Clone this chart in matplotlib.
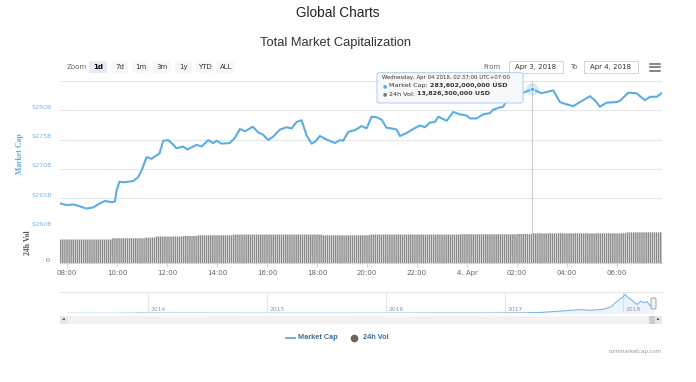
import numpy as np
import pandas as pd
import matplotlib
matplotlib.use("Agg")
import matplotlib.pyplot as plt
import matplotlib.dates as mdates
from matplotlib.patches import Rectangle, FancyBboxPatch
from matplotlib.lines import Line2D

W, H = 696, 382

# total market cap (billions USD), Apr 3 -> Apr 4 2018, UTC+07:00
mcap_times = ["07:43", "07:59", "08:15", "08:26", "08:47", "09:03", "09:19", "09:31", "09:47", "09:55",
              "09:59", "10:06", "10:15", "10:39", "10:51", "10:59", "11:11", "11:23", "11:35", "11:42",
              "11:51", "12:03", "12:11", "12:23", "12:38", "12:49", "13:03", "13:11", "13:23", "13:39",
              "13:51", "13:59", "14:11", "14:31", "14:43", "14:55", "15:07", "15:19", "15:26", "15:39",
              "15:51", "16:03", "16:15", "16:31", "16:47", "16:59", "17:11", "17:23", "17:35", "17:47",
              "17:55", "18:07", "18:23", "18:43", "18:55", "19:03", "19:15", "19:31", "19:47", "19:59",
              "20:11", "20:23", "20:35", "20:47", "20:59", "21:11", "21:19", "21:35", "21:51", "22:07",
              "22:19", "22:31", "22:43", "22:51", "23:11", "23:27", "23:43", "23:59", "00:07", "00:23",
              "00:39", "00:55", "01:03", "01:19", "01:27", "01:39", "01:59", "02:15", "02:37", "02:59",
              "03:27", "03:43", "03:55", "04:15", "04:31", "04:55", "05:07", "05:19", "05:35", "05:59",
              "06:07", "06:27", "06:47", "07:07", "07:19", "07:35", "07:47"]
mcap_values = [264.1, 263.8, 263.9, 263.7, 263.2, 263.4, 264.1, 264.5, 264.3, 264.4,
               266.3, 267.8, 267.7, 267.9, 268.6, 269.7, 272.0, 271.7, 272.3, 272.6,
               274.8, 274.9, 274.4, 273.5, 273.8, 273.3, 273.8, 274.1, 273.8, 274.9,
               274.4, 274.8, 274.3, 274.4, 275.3, 276.8, 276.4, 276.9, 277.2, 276.2,
               275.8, 274.9, 275.5, 276.7, 277.1, 276.9, 278.0, 278.3, 275.7, 274.3,
               274.6, 275.6, 275.0, 274.4, 274.9, 274.8, 276.3, 276.6, 277.3, 276.9,
               278.9, 278.8, 278.4, 277.0, 276.9, 276.7, 275.6, 276.1, 276.8, 277.4,
               277.1, 277.9, 278.0, 278.9, 278.2, 279.7, 279.3, 279.1, 278.6, 278.6,
               279.3, 279.5, 280.1, 280.5, 280.6, 282.3, 282.9, 283.0, 283.6, 282.9,
               283.4, 281.4, 281.1, 280.7, 281.4, 282.4, 281.7, 280.6, 281.3, 281.4,
               281.6, 283.0, 282.9, 281.7, 282.3, 282.3, 282.9]

# 24h volume (billions USD): level held from each start time
vol_starts = ["07:43", "09:48", "11:07", "11:31", "12:36", "13:14", "14:36", "18:12",
              "20:07", "23:43", "02:00", "02:38", "06:24"]
vol_levels = [11.2, 11.8, 12.1, 12.6, 12.9, 13.2, 13.55, 13.2,
              13.55, 13.7, 13.83, 14.15, 14.6]

x_ticks = [8, 10, 12, 14, 16, 18, 20, 22, 24, 26, 28, 30]
x_labels = ["08:00", "10:00", "12:00", "14:00", "16:00", "18:00", "20:00", "22:00",
            "4. Apr", "02:00", "04:00", "06:00"]
y_ticks = [260, 265, 270, 275, 280]
y_labels = ["$260B", "$265B", "$270B", "$275B", "$280B"]

# navigator: whole history (billions USD)
nav_dates = ["2013-04-28", "2013-10-01", "2013-11-15", "2013-12-04", "2013-12-20", "2014-01-15",
             "2014-03-01", "2014-06-01", "2014-09-01", "2015-01-15", "2015-06-01", "2015-11-05",
             "2016-01-01", "2016-06-18", "2016-10-01", "2017-01-01", "2017-03-01", "2017-04-20",
             "2017-06-13", "2017-08-22", "2017-09-22", "2017-11-01", "2017-11-23", "2017-12-14",
             "2017-12-23", "2018-01-01", "2018-01-07", "2018-01-15", "2018-01-28", "2018-02-05",
             "2018-02-13", "2018-02-23", "2018-03-06", "2018-03-14", "2018-03-25", "2018-04-04"]
nav_values = [1.5, 1.8, 6, 14, 8, 11,
              8, 8, 6, 3.5, 3.5, 6,
              7, 12, 11, 17, 22, 35,
              87, 160, 130, 175, 275, 537,
              640, 730, 830, 686, 568, 467,
              380, 524, 467, 510, 336, 270]
nav_years = ["2014", "2015", "2016", "2017", "2018"]

LINE = "#5aaee3"
GRID = "#e6e6e6"
AXIS = "#ccd6eb"


def to_hours(times):
    # hours since Apr 3 00:00; once the clock wraps we are on Apr 4
    out = []
    day = 0
    prev = -1
    for s in times:
        h, m = map(int, s.split(":"))
        v = h + m / 60
        if v < prev:
            day = 24
        prev = v
        out.append(v + day)
    return np.array(out)


def frame(x0, y0, x1, y1):
    return [x0 / W, 1 - y1 / H, (x1 - x0) / W, (y1 - y0) / H]


def fx(x):
    return x / W


def fy(y):
    return 1 - y / H


def box(x0, y0, x1, y1, fc, ec="none", lw=0.6, r=0.003, z=5):
    p = FancyBboxPatch((fx(x0), fy(y1)), (x1 - x0) / W, (y1 - y0) / H,
                       boxstyle=f"round,pad=0,rounding_size={r}", transform=fig.transFigure,
                       fc=fc, ec=ec, lw=lw, zorder=z)
    fig.add_artist(p)


fig = plt.figure(figsize=(W / 100, H / 100), dpi=100)
fig.patch.set_facecolor("white")

# titles
fig.text(fx(338), fy(13), "Global Charts", ha="center", va="center",
         family="Liberation Sans", fontsize=9.8, color="#222222")
fig.text(fx(335), fy(43), "Total Market Capitalization", ha="center", va="center",
         family="Liberation Sans", fontsize=9.3, color="#333333")

# ---- market cap pane
hours = to_hours(mcap_times)
xmin, xmax = 7.72, 31.8
ax = fig.add_axes(frame(60, 81, 662, 227.3))
ax.set_xlim(xmin, xmax)
ax.set_ylim(260, 285)
for v in y_ticks + [285]:
    ax.axhline(v, color=GRID, lw=0.8, zorder=0)
for v, lab in zip(y_ticks, y_labels):
    ax.text(-0.013, v + 0.5, lab, transform=ax.get_yaxis_transform(), ha="right", va="center",
            fontsize=4.6, color="#7cb5ec")
ax.axvline(26.6167, color="#cccccc", lw=0.8, zorder=1)
ax.plot(hours, mcap_values, color=LINE, lw=1.5, zorder=3, solid_joinstyle="round")
ax.plot([26.6167], [283.602], "o", ms=9, color=LINE, alpha=0.25, mec="none", zorder=4)
ax.plot([26.6167], [283.602], "o", ms=3.2, color=LINE, mec="white", mew=0.5, zorder=5)
ax.axis("off")
fig.text(fx(20), fy(154), "Market Cap", rotation=90, ha="center", va="center",
         family="Liberation Serif", fontweight="bold", fontsize=5.6, color="#5ea9de")

# ---- volume pane
vol_h = to_hours(vol_starts)
bar_t = np.arange(7.75, 31.8, 5 / 60)
idx = np.searchsorted(vol_h, bar_t, side="right") - 1
bar_v = np.array(vol_levels)[idx]
axv = fig.add_axes(frame(60, 227.3, 662, 263))
axv.set_xlim(xmin, xmax)
axv.set_ylim(0, 17)
bars = axv.bar(bar_t, bar_v, width=0.058, color="#888888", lw=0, zorder=2)
for b in bars:
    b.set_snap(False)
axv.axvline(26.6167, color="#cccccc", lw=0.8, zorder=3)
for s in ["top", "right", "left"]:
    axv.spines[s].set_visible(False)
axv.spines["bottom"].set_color(AXIS)
axv.spines["bottom"].set_linewidth(0.8)
axv.set_yticks([])
axv.set_xticks(x_ticks)
axv.set_xticklabels(x_labels, fontsize=5, color="#666666")
axv.tick_params(axis="x", length=3, width=0.7, color=AXIS, pad=2)
fig.text(fx(50), fy(260), "0", ha="right", va="center", fontsize=4.6, color="#666666")
fig.text(fx(28), fy(243), "24h Vol", rotation=90, ha="center", va="center",
         family="Liberation Serif", fontweight="bold", fontsize=5.6, color="#555555")

# ---- tooltip
box(377, 72.7, 523, 103, fc="#f7f8fa", ec="#a9cdee", lw=0.7, r=0.004, z=8)
fig.text(fx(382), fy(77), "Wednesday, Apr 04 2018, 02:37:00 UTC+07:00", fontsize=3.9,
         color="#333333", va="center", zorder=9)
renderer = fig.canvas.get_renderer()
rows = [("Market Cap: ", "283,602,000,000 USD", LINE, 85.5),
        ("24h Vol: ", "13,826,300,000 USD", "#777777", 94)]
for label, val, dot, yy in rows:
    fig.text(fx(383), fy(yy), "\u25CF", fontsize=3.5, color=dot, va="center", zorder=9)
    t = fig.text(fx(389), fy(yy), label, fontsize=4.6, color="#333333", va="center", zorder=9)
    bb = t.get_window_extent(renderer)
    fig.text(bb.x1 / fig.dpi / fig.get_figwidth(), fy(yy), val, fontsize=4.6, fontweight="bold",
             color="#333333", va="center", zorder=9)

# ---- range selector buttons
fig.text(fx(76.5), fy(67), "Zoom", ha="center", va="center", fontsize=5, color="#666666")
buttons = [("1d", 89, 107), ("7d", 111, 128), ("1m", 132, 149), ("3m", 153, 171),
           ("1y", 175, 192), ("YTD", 196, 213), ("ALL", 217, 235)]
for i, (lab, b0, b1) in enumerate(buttons):
    sel = i == 0
    box(b0, 61, b1, 73, fc="#e6ebf5" if sel else "#f7f7f7", r=0.003)
    fig.text(fx((b0 + b1) / 2), fy(67), lab, ha="center", va="center", fontsize=5,
             color="#000000" if sel else "#333333", fontweight="bold" if sel else "normal", zorder=6)

fig.text(fx(492), fy(67), "From", ha="center", va="center", fontsize=5, color="#666666")
fig.text(fx(574), fy(67), "To", ha="center", va="center", fontsize=5, color="#666666")
for lab, b0, b1 in [("Apr 3, 2018", 509, 563), ("Apr 4, 2018", 584, 638)]:
    fig.add_artist(Rectangle((fx(b0), fy(73)), (b1 - b0) / W, 12 / H, transform=fig.transFigure,
                             fc="white", ec="#cccccc", lw=0.6))
    fig.text(fx((b0 + b1) / 2), fy(67), lab, ha="center", va="center", fontsize=5, color="#333333")
for yy in [63.5, 67, 70.5]:
    fig.add_artist(Line2D([fx(650), fx(660)], [fy(yy), fy(yy)], transform=fig.transFigure,
                          color="#666666", lw=1.1))

# ---- navigator
nd = mdates.date2num(pd.to_datetime(nav_dates))
axn = fig.add_axes(frame(60, 292.3, 662, 313.3))
axn.set_xlim(mdates.date2num(pd.Timestamp("2013-04-05")), mdates.date2num(pd.Timestamp("2018-04-30")))
axn.set_ylim(0, 917)
axn.fill_between(nd, nav_values, 0, color="#7cb5ec", alpha=0.15, lw=0)
axn.plot(nd, nav_values, color="#7cb5ec", lw=0.8)
for yr in nav_years:
    xd = mdates.date2num(pd.Timestamp(f"{yr}-01-01"))
    axn.axvline(xd, color=GRID, lw=0.8, zorder=0)
    axn.text(xd + 8, 60, yr, fontsize=4.3, color="#999999", va="bottom")
axn.axis("off")
fig.add_artist(Line2D([fx(60), fx(662)], [fy(292.3), fy(292.3)], transform=fig.transFigure,
                      color=GRID, lw=0.8))
# navigator handle
box(651, 298, 656, 309, fc="#f2f2f2", ec="#999999", lw=0.6, r=0.002)
# scrollbar
fig.add_artist(Rectangle((fx(60), fy(323.5)), 602 / W, 7.5 / H, transform=fig.transFigure,
                         fc="#f2f2f2", ec="none"))
for b0 in [60, 654.5]:
    fig.add_artist(Rectangle((fx(b0), fy(323.5)), 7.5 / W, 7.5 / H, transform=fig.transFigure,
                             fc="#e6e6e6", ec="none"))
fig.add_artist(Rectangle((fx(649), fy(323.5)), 5.5 / W, 7.5 / H, transform=fig.transFigure,
                         fc="#cccccc", ec="none"))
fig.text(fx(63.7), fy(319.8), "\u25C0", fontsize=2.5, ha="center", va="center", color="#333333")
fig.text(fx(658.2), fy(319.8), "\u25B6", fontsize=2.5, ha="center", va="center", color="#333333")

# ---- legend + credits
fig.add_artist(Line2D([fx(286), fx(295)], [fy(337.5), fy(337.5)], transform=fig.transFigure,
                      color=LINE, lw=1.3))
fig.text(fx(298), fy(337.5), "Market Cap", family="Liberation Sans", fontsize=5.3,
         fontweight="bold", color="#3a6d9a", va="center")
fig.add_artist(Line2D([fx(354)], [fy(337.5)], transform=fig.transFigure, marker="o", ms=4.5,
                      color="#666666", lw=0))
fig.text(fx(363), fy(337.5), "24h Vol", family="Liberation Sans", fontsize=5.3,
         fontweight="bold", color="#3a6d9a", va="center")
fig.text(fx(662), fy(351), "coinmarketcap.com", fontsize=3.9, ha="right", va="center", color="#999999")

fig.savefig("out.png", dpi=100, facecolor="white")
